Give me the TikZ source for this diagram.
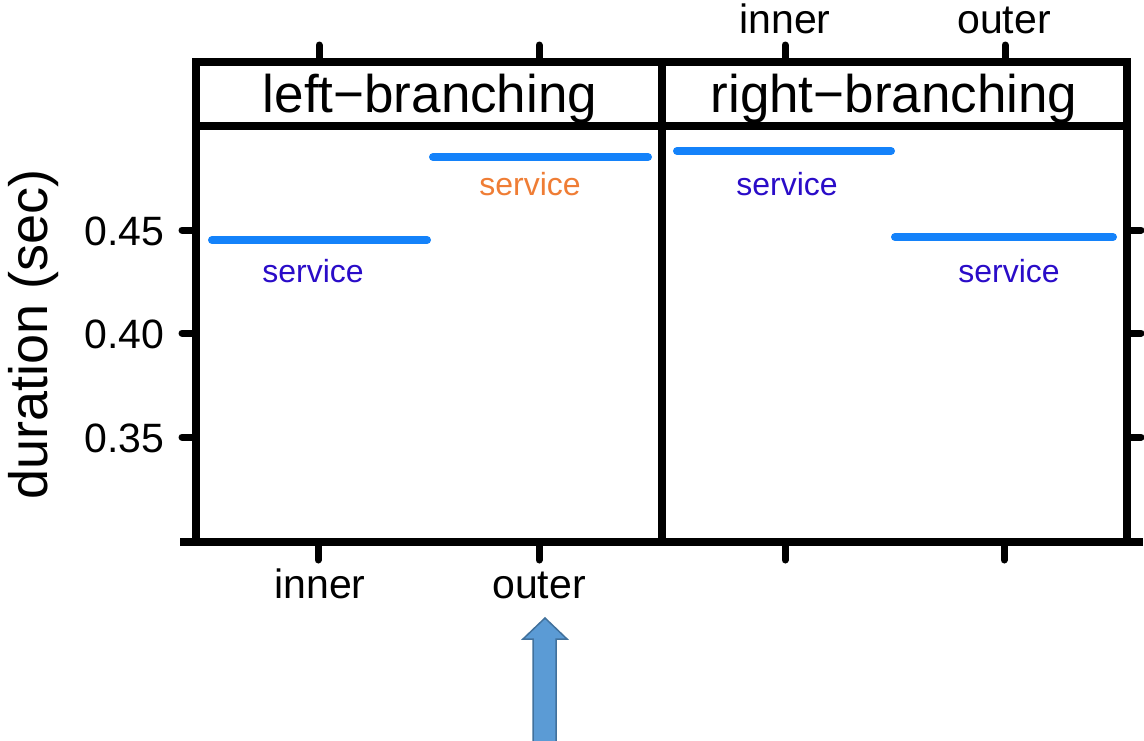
\documentclass[tikz,border=0pt]{standalone}
\usepackage{fontspec}
\setmainfont{Liberation Sans}
\definecolor{seg}{HTML}{1482FA}
\definecolor{lblblue}{HTML}{2A0CC8}
\definecolor{lblorange}{HTML}{EF7D35}
\definecolor{arrfill}{HTML}{5B9BD5}
\definecolor{arredge}{HTML}{41719C}
\begin{document}
\begin{tikzpicture}[x=1pt,y=-1pt,
  frame/.style={line width=8pt,line cap=rect},
  tick/.style={line width=7pt,line cap=round},
  segline/.style={seg,line width=8pt,line cap=round},
  strip/.style={font=\fontsize{53}{60}\selectfont,anchor=base},
  ticklbl/.style={font=\fontsize{41}{48}\selectfont},
  svc/.style={font=\fontsize{32}{38}\selectfont,anchor=base}]
\useasboundingbox (0,0) rectangle (1144,740);

% panel frames and strips
\draw[frame] (196,62) rectangle (1127,542);
\draw[frame] (662,62) -- (662,542);
\draw[frame] (196,126) -- (1127,126);
\draw[line width=8pt] (180,542) -- (1143,542);

% strip labels
\node[strip] (lb) at (430,112) {left−branching};
\node[strip] (rb) at (894,112) {right−branching};

% top ticks
\foreach \x in {319,539,785,1005} \draw[tick] (\x,45) -- (\x,62);
% bottom ticks
\foreach \x in {318,539,785,1004} \draw[tick] (\x,542) -- (\x,560);
% left and right y ticks
\foreach \y in {230,333,437} {
  \draw[tick] (182,\y) -- (196,\y);
  \draw[tick] (1127,\y) -- (1141,\y);
}

% y tick labels
\node[ticklbl,anchor=base east] (t45) at (168,245) {0.45};
\node[ticklbl,anchor=base east] (t40) at (168,348) {0.40};
\node[ticklbl,anchor=base east] (t35) at (168,452) {0.35};

% y axis title
\node[font=\fontsize{54}{60}\selectfont,rotate=90,anchor=base] (ytitle) at (47,334) {duration (sec)};

% x tick labels
\node[ticklbl,anchor=base] (bi) at (320,598) {inner};
\node[ticklbl,anchor=base] (bo) at (539,598) {outer};
\node[ticklbl,anchor=base] (ti) at (785,33) {inner};
\node[ticklbl,anchor=base] (to) at (1004,33) {outer};

% mean durations
\draw[segline] (212,240) -- (427,240);
\draw[segline] (433,157) -- (648,157);
\draw[segline] (677,151) -- (891,151);
\draw[segline] (895,237) -- (1113,237);

\node[svc,text=lblblue] (s1) at (313,282) {service};
\node[svc,text=lblorange] (s2) at (530,195) {service};
\node[svc,text=lblblue] (s3) at (787,195) {service};
\node[svc,text=lblblue] (s4) at (1009,282) {service};

% block arrow under the outer column
\draw[fill=arrfill,draw=arredge,line width=1.5pt,line join=miter]
  (545,618) -- (567,639) -- (556,639) -- (556,742) -- (533,742) -- (533,639) -- (523,639) -- cycle;
\end{tikzpicture}
\end{document}
